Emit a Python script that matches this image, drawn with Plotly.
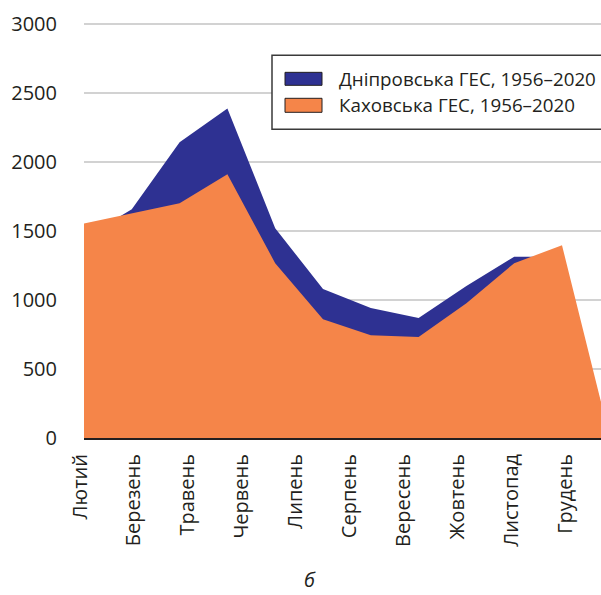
import plotly.graph_objects as go

# ---- data ----
month_index = [0, 1, 2, 3, 4, 5, 6, 7, 8, 9, 10, 11]
dnipro = [1450, 1660, 2145, 2390, 1522, 1080, 942, 870, 1103, 1315, 1315, 0]
kakhovka = [1555, 1630, 1703, 1913, 1268, 862, 746, 732, 978, 1268, 1398, 5]
tick_labels = ["Лютий", "Березень", "Травень", "Червень", "Липень",
               "Серпень", "Вересень", "Жовтень", "Листопад", "Грудень"]
series_names = ["Дніпровська ГЕС, 1956–2020", "Каховська ГЕС, 1956–2020"]
y_ticks = [0, 500, 1000, 1500, 2000, 2500, 3000]
caption = "б"

# ---- style / layout ----
BLUE = "#2e3192"
ORANGE = "#f58549"
TXT = "#231f20"
FONT = "Open Sans"
W, H = 601, 595
L, R, B = 84, 601, 438
Y_MAX = 3010
T = B - 414 * Y_MAX / 3000
X_MAX = (R - L) / 47.8
tick_start, tick_step = 0.0, 1.128


def px_x(x):
    return (x - L) / (R - L)


def px_y(y):
    return (B - y) / (B - T)


fig = go.Figure()
fig.add_trace(go.Scatter(x=month_index, y=dnipro, mode="lines", fill="tozeroy",
                         fillcolor=BLUE, line=dict(width=0, color=BLUE),
                         name=series_names[0], showlegend=False, hoverinfo="skip"))
fig.add_trace(go.Scatter(x=month_index, y=kakhovka, mode="lines", fill="tozeroy",
                         fillcolor=ORANGE, line=dict(width=0, color=ORANGE),
                         name=series_names[1], showlegend=False, hoverinfo="skip"))

tickvals = [tick_start + tick_step * i for i in range(len(tick_labels))]

fig.update_layout(
    template="none",
    width=W, height=H,
    margin=dict(l=L, r=W - R, t=T, b=H - B, pad=0, autoexpand=False),
    paper_bgcolor="white", plot_bgcolor="white",
    font=dict(family=FONT, color=TXT, size=20),
    xaxis=dict(range=[0, X_MAX], tickmode="array", tickvals=tickvals,
               ticktext=tick_labels, tickangle=-90, showgrid=False,
               zeroline=False, showline=True, linecolor=TXT, linewidth=2,
               ticks="", ticklabelstandoff=6, ticklabelshift=-4,
               automargin=False,
               tickfont=dict(family=FONT, size=20, color=TXT)),
    yaxis=dict(range=[0, Y_MAX], tickmode="array", tickvals=y_ticks,
               showgrid=True, gridcolor="#d2d2d2", gridwidth=2,
               zeroline=False, showline=False, ticks="",
               ticklabelstandoff=26, automargin=False,
               tickfont=dict(family=FONT, size=20, color=TXT)),
    showlegend=False,
)

shapes = [
    dict(type="rect", xref="paper", yref="paper",
         x0=px_x(272), x1=px_x(650), y0=px_y(129), y1=px_y(55),
         line=dict(color="#3a3a3a", width=1.5), fillcolor="white", layer="above"),
    dict(type="rect", xref="paper", yref="paper",
         x0=px_x(285), x1=px_x(322), y0=px_y(85), y1=px_y(72),
         line=dict(color=TXT, width=1), fillcolor=BLUE, layer="above"),
    dict(type="rect", xref="paper", yref="paper",
         x0=px_x(285), x1=px_x(322), y0=px_y(112), y1=px_y(98),
         line=dict(color=TXT, width=1), fillcolor=ORANGE, layer="above"),
]
fig.update_layout(shapes=shapes)

for name, yc in zip(series_names, [78.5, 105]):
    fig.add_annotation(text=name, xref="paper", yref="paper",
                       x=px_x(337), y=px_y(yc), xanchor="left", yanchor="middle",
                       showarrow=False, font=dict(family=FONT, size=18.8, color=TXT))

fig.add_annotation(text="<i>" + caption + "</i>", xref="paper", yref="paper",
                   x=px_x(310), y=px_y(580), xanchor="center", yanchor="middle",
                   borderpad=0,
                   showarrow=False, font=dict(family=FONT, size=20, color=TXT))

fig.write_html("out.html", config={"displayModeBar": False},
               post_script="document.body.style.margin='0';document.body.style.overflow='hidden';")
